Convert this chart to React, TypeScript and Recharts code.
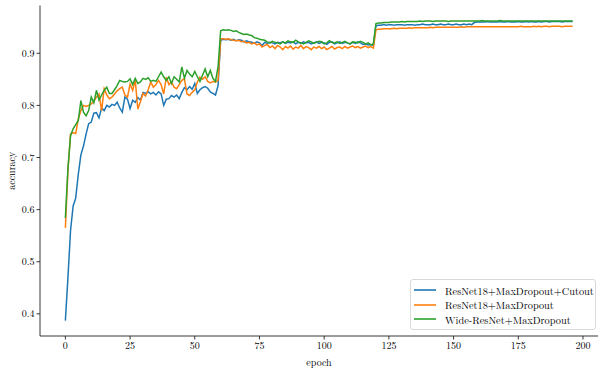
import React from 'react';
import {
  LineChart, Line, XAxis, YAxis,
} from 'recharts';

// accuracy per epoch, split by lr phase (0-59, 60-119, 120-196)
const cutoutWarmup = [
  0.387, 0.47, 0.56, 0.607, 0.622, 0.668, 0.705, 0.722, 0.745, 0.765,
  0.768, 0.785, 0.786, 0.776, 0.795, 0.79, 0.8, 0.797, 0.802, 0.8,
  0.806, 0.795, 0.787, 0.816, 0.812, 0.794, 0.81, 0.806, 0.815, 0.81,
  0.825, 0.823, 0.826, 0.822, 0.825, 0.82, 0.826, 0.822, 0.8, 0.812,
  0.813, 0.819, 0.816, 0.82, 0.813, 0.825, 0.834, 0.83, 0.836, 0.831,
  0.842, 0.823, 0.83, 0.834, 0.836, 0.833, 0.826, 0.823, 0.82, 0.838,
];
const cutoutMid = [
  0.925, 0.927, 0.926, 0.927, 0.925, 0.927, 0.924, 0.926, 0.925, 0.922,
  0.924, 0.922, 0.921, 0.919, 0.922, 0.92, 0.915, 0.921, 0.919, 0.921,
  0.92, 0.918, 0.921, 0.92, 0.922, 0.919, 0.921, 0.92, 0.922, 0.918,
  0.921, 0.919, 0.922, 0.92, 0.921, 0.918, 0.92, 0.922, 0.919, 0.921,
  0.92, 0.917, 0.921, 0.922, 0.918, 0.92, 0.922, 0.919, 0.921, 0.92,
  0.918, 0.921, 0.919, 0.922, 0.92, 0.917, 0.918, 0.916, 0.917, 0.915,
];
const cutoutLate = [
  0.953, 0.954, 0.954, 0.955, 0.954, 0.955, 0.955, 0.954, 0.955, 0.955,
  0.955, 0.954, 0.955, 0.955, 0.955, 0.954, 0.955, 0.955, 0.956, 0.955,
  0.955, 0.955, 0.956, 0.955, 0.955, 0.956, 0.955, 0.955, 0.956, 0.955,
  0.955, 0.956, 0.955, 0.955, 0.956, 0.955, 0.956, 0.955, 0.959, 0.96,
  0.96, 0.96, 0.96, 0.961, 0.96, 0.96, 0.96, 0.96, 0.961, 0.96,
  0.96, 0.961, 0.96, 0.96, 0.96, 0.961, 0.96, 0.96, 0.961, 0.96,
  0.961, 0.96, 0.96, 0.961, 0.96, 0.961, 0.961, 0.96, 0.961, 0.961,
  0.961, 0.961, 0.96, 0.961, 0.961, 0.961, 0.961,
];

const maxdropWarmup = [
  0.565, 0.674, 0.745, 0.748, 0.746, 0.774, 0.79, 0.8, 0.798, 0.8,
  0.803, 0.808, 0.816, 0.822, 0.79, 0.832, 0.82, 0.813, 0.816, 0.822,
  0.828, 0.832, 0.835, 0.82, 0.816, 0.841, 0.829, 0.848, 0.793, 0.807,
  0.823, 0.818, 0.83, 0.845, 0.835, 0.84, 0.848, 0.84, 0.822, 0.854,
  0.84, 0.845, 0.835, 0.832, 0.84, 0.848, 0.851, 0.822, 0.819, 0.825,
  0.83, 0.845, 0.854, 0.85, 0.855, 0.846, 0.843, 0.846, 0.845, 0.848,
];
const maxdropMid = [
  0.928, 0.928, 0.927, 0.928, 0.926, 0.925, 0.924, 0.925, 0.922, 0.923,
  0.92, 0.921, 0.918, 0.92, 0.916, 0.918, 0.912, 0.915, 0.917, 0.911,
  0.914, 0.909, 0.915, 0.912, 0.907, 0.913, 0.91, 0.914, 0.908, 0.912,
  0.91, 0.915, 0.909, 0.913, 0.911, 0.907, 0.912, 0.91, 0.913, 0.909,
  0.912, 0.907, 0.91, 0.913, 0.908, 0.911, 0.912, 0.909, 0.913, 0.91,
  0.912, 0.914, 0.911, 0.913, 0.91, 0.912, 0.914, 0.911, 0.913, 0.91,
];
const maxdropLate = [
  0.945, 0.946, 0.946, 0.947, 0.947, 0.947, 0.947, 0.948, 0.947, 0.948,
  0.948, 0.948, 0.948, 0.949, 0.948, 0.949, 0.949, 0.949, 0.949, 0.949,
  0.949, 0.95, 0.949, 0.95, 0.95, 0.95, 0.95, 0.95, 0.95, 0.95,
  0.95, 0.95, 0.95, 0.951, 0.95, 0.951, 0.951, 0.951, 0.951, 0.951,
  0.951, 0.951, 0.951, 0.951, 0.951, 0.951, 0.951, 0.951, 0.951, 0.951,
  0.951, 0.951, 0.951, 0.951, 0.951, 0.951, 0.952, 0.951, 0.951, 0.951,
  0.951, 0.952, 0.951, 0.952, 0.951, 0.952, 0.952, 0.951, 0.952, 0.952,
  0.952, 0.952, 0.951, 0.952, 0.952, 0.952, 0.952,
];

const wideWarmup = [
  0.584, 0.68, 0.742, 0.755, 0.763, 0.771, 0.809, 0.787, 0.78, 0.79,
  0.816, 0.805, 0.829, 0.81, 0.82, 0.829, 0.835, 0.823, 0.823, 0.83,
  0.838, 0.848, 0.846, 0.845, 0.846, 0.851, 0.84, 0.852, 0.842, 0.845,
  0.852, 0.85, 0.853, 0.846, 0.848, 0.846, 0.855, 0.864, 0.855, 0.848,
  0.855, 0.842, 0.855, 0.85, 0.845, 0.874, 0.852, 0.867, 0.86, 0.855,
  0.865, 0.855, 0.846, 0.858, 0.87, 0.855, 0.867, 0.852, 0.846, 0.874,
];
const wideMid = [
  0.943, 0.945, 0.944, 0.945, 0.944, 0.942, 0.943, 0.94, 0.938, 0.936,
  0.937, 0.935, 0.934, 0.93, 0.929, 0.927, 0.926, 0.925, 0.922, 0.92,
  0.923, 0.921, 0.92, 0.918, 0.922, 0.92, 0.924, 0.922, 0.921, 0.925,
  0.922, 0.92, 0.918, 0.921, 0.924, 0.922, 0.919, 0.921, 0.923, 0.922,
  0.918, 0.92, 0.924, 0.921, 0.92, 0.922, 0.919, 0.921, 0.923, 0.92,
  0.918, 0.922, 0.921, 0.92, 0.923, 0.921, 0.918, 0.92, 0.916, 0.918,
];
const wideLate = [
  0.957, 0.958, 0.958, 0.959, 0.959, 0.959, 0.96, 0.96, 0.96, 0.96,
  0.961, 0.96, 0.961, 0.961, 0.961, 0.961, 0.961, 0.962, 0.961, 0.962,
  0.962, 0.962, 0.961, 0.962, 0.962, 0.962, 0.962, 0.962, 0.961, 0.962,
  0.962, 0.962, 0.962, 0.962, 0.962, 0.962, 0.962, 0.962, 0.962, 0.962,
  0.962, 0.963, 0.962, 0.962, 0.962, 0.962, 0.962, 0.962, 0.963, 0.962,
  0.962, 0.962, 0.962, 0.962, 0.962, 0.962, 0.962, 0.962, 0.962, 0.962,
  0.962, 0.962, 0.962, 0.962, 0.962, 0.962, 0.962, 0.962, 0.962, 0.962,
  0.962, 0.962, 0.962, 0.962, 0.962, 0.962, 0.962,
];

const xTicks = [0, 25, 50, 75, 100, 125, 150, 175, 200];
const yTicks = [0.4, 0.5, 0.6, 0.7, 0.8, 0.9];

const seriesNames = [
  'ResNet18+MaxDropout+Cutout',
  'ResNet18+MaxDropout',
  'Wide-ResNet+MaxDropout',
];
const colors = ['#1f77b4', '#ff7f0e', '#2ca02c'];

const cutout = [...cutoutWarmup, ...cutoutMid, ...cutoutLate];
const maxdrop = [...maxdropWarmup, ...maxdropMid, ...maxdropLate];
const wide = [...wideWarmup, ...wideMid, ...wideLate];

const data = cutout.map((v, i) => ({
  epoch: i,
  cutout: v,
  maxdrop: maxdrop[i],
  wide: wide[i],
}));

const FONT = "'Latin Modern Roman', 'Liberation Serif', 'DejaVu Serif', serif";
const tickStyle = { fontSize: 10, fill: '#000', fontFamily: FONT };
const frame = { stroke: '#222', strokeWidth: 0.9 };

function LegendBox() {
  return (
    <div
      style={{
        position: 'absolute',
        left: 410,
        top: 279,
        width: 186,
        height: 51,
        boxSizing: 'border-box',
        border: '1px solid #d9d9d9',
        borderRadius: 3,
        background: 'rgba(255,255,255,0.8)',
        padding: '3px 0 0 3px',
        fontFamily: FONT,
        fontSize: 10.3,
        color: '#000',
      }}
    >
      {seriesNames.map((name, i) => (
        <div
          key={name}
          style={{ display: 'flex', alignItems: 'center', height: 14.5, whiteSpace: 'nowrap' }}
        >
          <svg width={31} height={4} style={{ flex: 'none' }}>
            <line x1={0} y1={2} x2={22} y2={2} stroke={colors[i]} strokeWidth={1.6} />
          </svg>
          <span>{name}</span>
        </div>
      ))}
    </div>
  );
}

export default function App() {
  return (
    <div style={{ position: 'absolute', left: 0, top: 0, width: 605, height: 369, background: '#fff' }}>
      <LineChart
        width={605}
        height={369}
        data={data}
        margin={{ top: 5.5, right: 7, bottom: 0, left: 0 }}
      >
        <XAxis
          dataKey="epoch"
          type="number"
          domain={[-9.8, 205.8]}
          ticks={xTicks}
          allowDataOverflow
          tick={tickStyle}
          tickSize={3.5}
          tickLine={frame}
          axisLine={frame}
          height={33}
          label={{ value: 'epoch', position: 'insideBottom', offset: 3, style: tickStyle }}
        />
        <XAxis
          xAxisId="top"
          orientation="top"
          dataKey="epoch"
          type="number"
          domain={[-9.8, 205.8]}
          tick={false}
          tickLine={false}
          height={0}
          axisLine={frame}
        />
        <YAxis
          type="number"
          domain={[0.3575, 0.9917]}
          ticks={yTicks}
          allowDataOverflow
          tick={tickStyle}
          tickSize={3.5}
          tickFormatter={(v: number) => v.toFixed(1)}
          tickLine={frame}
          axisLine={frame}
          width={40}
          label={{
            value: 'accuracy',
            angle: -90,
            position: 'insideLeft',
            offset: 11,
            style: { ...tickStyle, textAnchor: 'middle' },
          }}
        />
        <YAxis
          yAxisId="right"
          orientation="right"
          type="number"
          domain={[0.3575, 0.9917]}
          tick={false}
          tickLine={false}
          width={0}
          axisLine={frame}
        />
        <Line dataKey="cutout" stroke={colors[0]} strokeWidth={1.5} dot={false} isAnimationActive={false} />
        <Line dataKey="maxdrop" stroke={colors[1]} strokeWidth={1.5} dot={false} isAnimationActive={false} />
        <Line dataKey="wide" stroke={colors[2]} strokeWidth={1.5} dot={false} isAnimationActive={false} />
      </LineChart>
      <LegendBox />
    </div>
  );
}
